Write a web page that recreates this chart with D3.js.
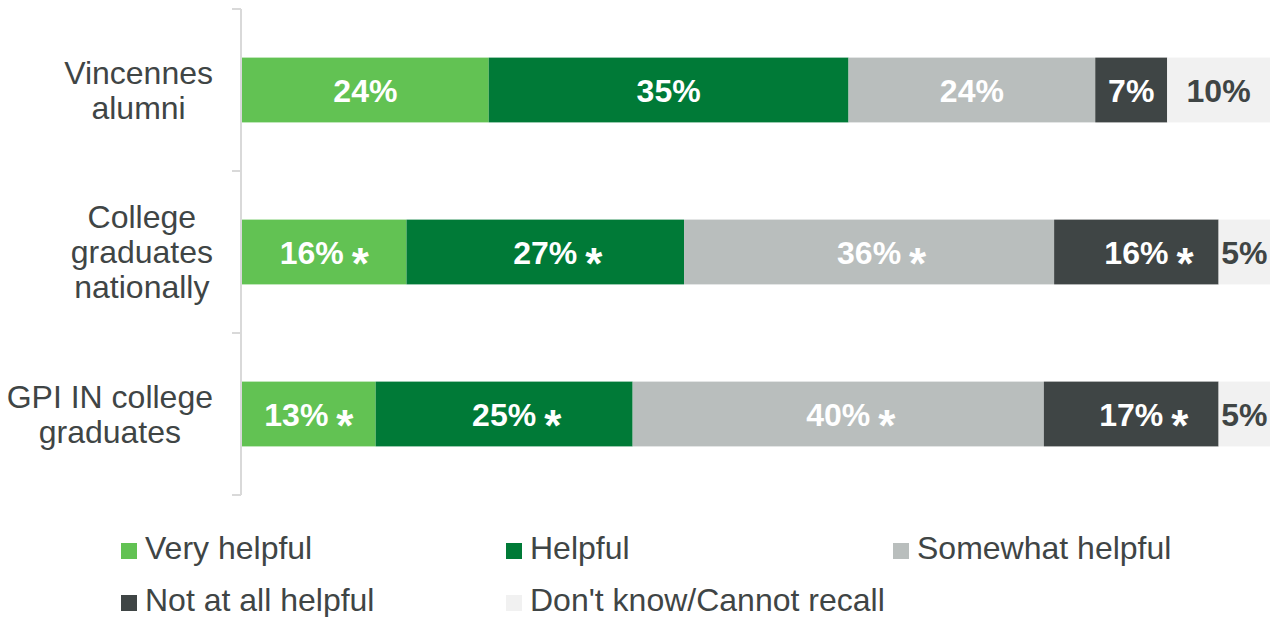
<!DOCTYPE html>
<html>
<head>
<meta charset="utf-8">
<script src="https://cdn.jsdelivr.net/npm/d3@7"></script>
<style>
  body { margin: 0; background: #fff; }
  svg text { font-family: "Liberation Sans", Arial, sans-serif; }
</style>
</head>
<body>
<svg id="chart" width="1278" height="617"></svg>
<script>
const categories = ['Vincennes alumni', 'College graduates nationally', 'GPI IN college graduates']
const categoryLines = [['Vincennes', 'alumni'], ['College', 'graduates', 'nationally'], ['GPI IN college', 'graduates']]
const seriesNames = ['Very helpful', 'Helpful', 'Somewhat helpful', 'Not at all helpful', "Don't know/Cannot recall"]
const veryHelpful = [24, 16, 13]
const helpful = [35, 27, 25]
const somewhatHelpful = [24, 36, 40]
const notAtAllHelpful = [7, 16, 17]
const dontKnow = [10, 5, 5]
// significance flags (asterisk) per row
const significant = [false, true, true]
const colors = ['#62c253', '#007a37', '#b9bebd', '#3f4545', '#f1f1f1']
const labelColors = ['#fff', '#fff', '#fff', '#fff', '#3f4545']

const seriesValues = [veryHelpful, helpful, somewhatHelpful, notAtAllHelpful, dontKnow]
const textColor = '#3f4545'
const width = 1278
const height = 617
const marginLeft = 242
const marginRight = 8
const plotTop = 9
const plotBottom = 495
const axisX = 241

const svg = d3.select('#chart')

const rows = categories.map((c, i) => {
  let acc = 0
  const segs = seriesNames.map((s, j) => {
    const v = seriesValues[j][i]
    const seg = { series: s, idx: j, x0: acc, x1: acc + v, value: v, star: significant[i] && j < 4 }
    acc += v
    return seg
  })
  return { category: c, lines: categoryLines[i], segs }
})

const x = d3.scaleLinear().domain([0, 100]).range([marginLeft, width - marginRight])
const y = d3.scaleBand().domain(categories).range([plotTop, plotBottom]).padding(0)
const barH = y.bandwidth() * 0.4

// axis line and ticks
const axisG = svg.append('g')
axisG.append('line')
  .attr('x1', axisX).attr('x2', axisX)
  .attr('y1', plotTop).attr('y2', plotBottom)
  .attr('stroke', '#d9d9d9').attr('stroke-width', 2)
const tickYs = categories.map(c => y(c)).concat([plotBottom])
axisG.selectAll('.tick')
  .data(tickYs)
  .join('line')
  .attr('x1', axisX - 9).attr('x2', axisX)
  .attr('y1', d => d).attr('y2', d => d)
  .attr('stroke', '#d9d9d9').attr('stroke-width', 2)

// category labels
const catG = svg.append('g')
rows.forEach(r => {
  const cy = y(r.category) + y.bandwidth() / 2
  const lh = 35
  const t = catG.append('text')
    .attr('font-size', 32)
    .attr('fill', textColor)
    .attr('text-anchor', 'middle')
  r.lines.forEach((ln, k) => {
    t.append('tspan')
      .attr('x', 0)
      .attr('y', cy + (k - (r.lines.length - 1) / 2) * lh + 11)
      .text(ln)
  })
  const w = t.node().getBBox().width
  t.attr('transform', `translate(${213 - w / 2},0)`)
})

// bars
const barG = svg.append('g')
rows.forEach(r => {
  const by = y(r.category) + (y.bandwidth() - barH) / 2
  const cy = by + barH / 2
  const g = barG.append('g')
  g.selectAll('rect')
    .data(r.segs)
    .join('rect')
    .attr('x', d => x(d.x0))
    .attr('y', by)
    .attr('width', d => x(d.x1) - x(d.x0))
    .attr('height', barH)
    .attr('fill', d => colors[d.idx])

  r.segs.forEach(d => {
    const cx = (x(d.x0) + x(d.x1)) / 2
    const t = g.append('text')
      .attr('x', cx)
      .attr('y', cy + 11.5)
      .attr('text-anchor', 'middle')
      .attr('font-size', 32)
      .attr('font-weight', 'bold')
      .attr('fill', labelColors[d.idx])
      .text(d.value + '%')
    if (d.star) {
      const tw = t.node().getComputedTextLength()
      const gap = 8
      const starW = 17
      // the narrow first segment centres label and asterisk together
      let tx = cx
      if (d.idx === 0) tx = cx - (gap + starW) / 2
      t.attr('x', tx)
      g.append('text')
        .attr('x', tx + tw / 2 + gap)
        .attr('y', cy + 27)
        .attr('font-size', 44)
        .attr('font-weight', 'bold')
        .attr('fill', '#fff')
        .text('*')
    }
  })
})

// legend
const legendPos = [[121, 559], [506, 559], [893, 559], [121, 611], [506, 611]]
const legG = svg.append('g')
seriesNames.forEach((s, j) => {
  const [lx, ly] = legendPos[j]
  legG.append('rect')
    .attr('x', lx).attr('y', ly - 16)
    .attr('width', 16).attr('height', 16)
    .attr('fill', colors[j])
  legG.append('text')
    .attr('x', lx + 24).attr('y', ly)
    .attr('font-size', 32)
    .attr('fill', textColor)
    .text(s)
})
</script>
</body>
</html>
